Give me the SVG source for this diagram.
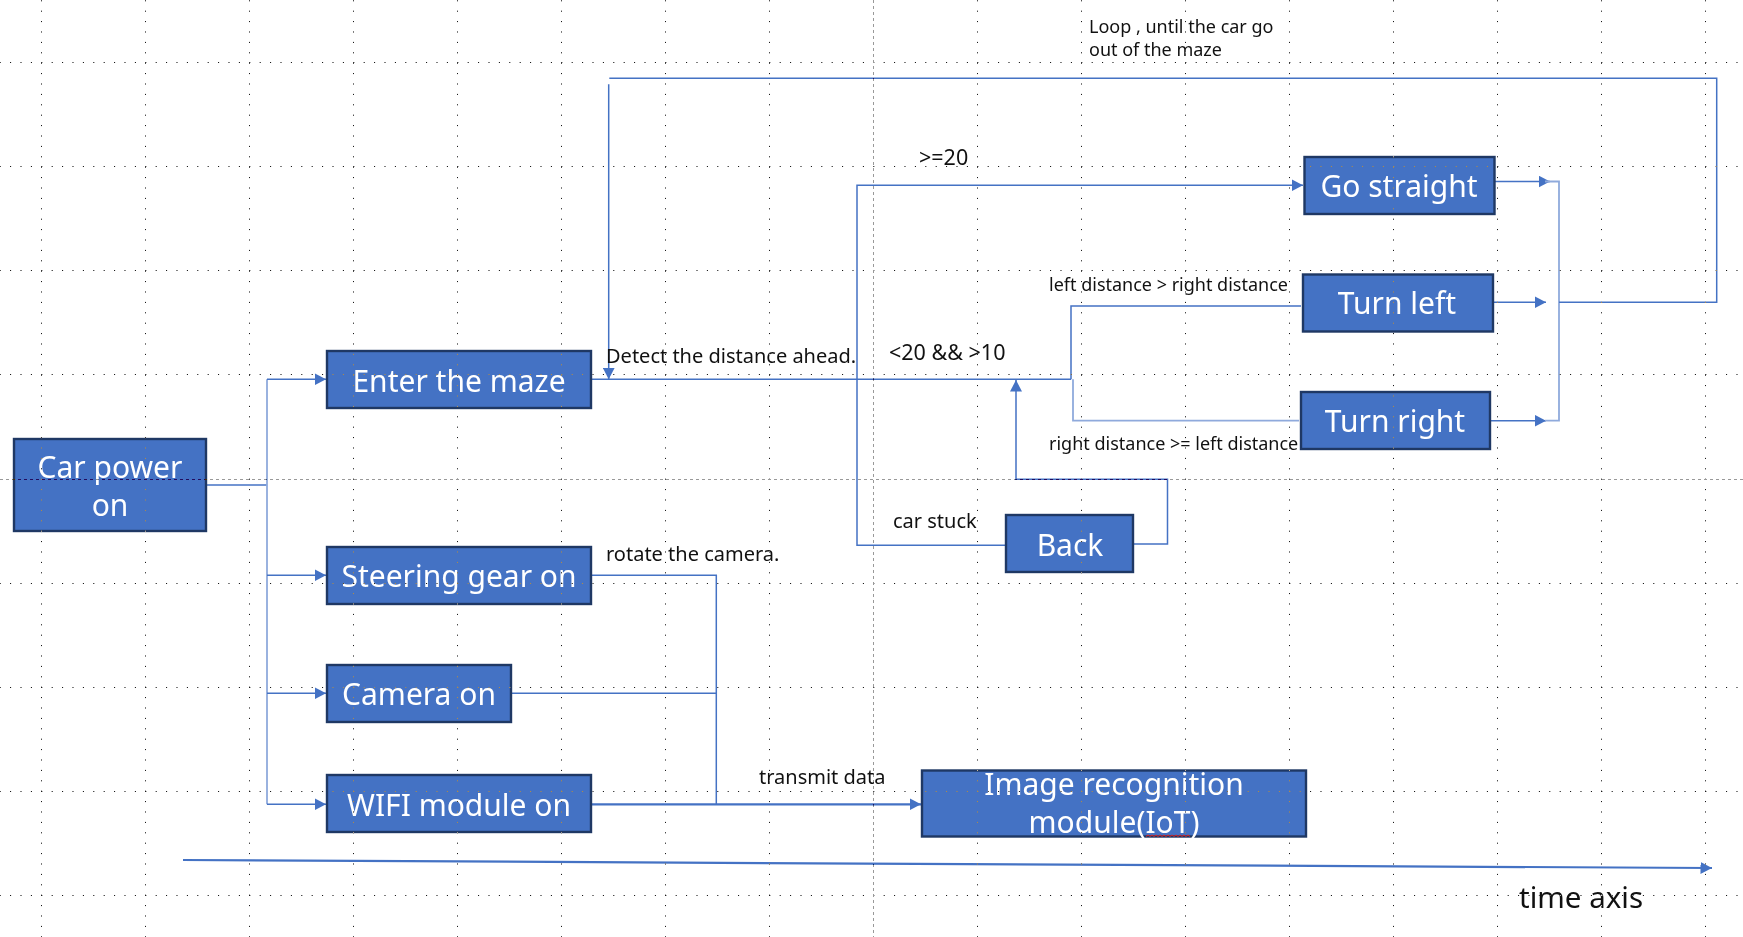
<svg xmlns="http://www.w3.org/2000/svg" width="1743" height="937" viewBox="0 0 1743 937">
<style>
.box{fill:#4472c4;stroke:#1f3864;stroke-width:2.4}
.bt{font-family:"Noto Sans","Open Sans","Liberation Sans",sans-serif;font-size:30px;fill:#ffffff;text-anchor:middle}
.lb{font-family:"Noto Sans","Open Sans","Liberation Sans",sans-serif;font-size:20px;fill:#111111}
.sm{font-size:18px}
.md{font-size:21.5px}
.c{fill:none;stroke:#4472c4;stroke-width:1.5}
.cl{fill:none;stroke:#8faadc;stroke-width:1.8}
.thick{stroke-width:2.2}
.arr{marker-end:url(#ah)}
.grid{mix-blend-mode:difference}
.g{stroke:#ffffff;stroke-width:1;stroke-dasharray:1 9.4;fill:none}
.d{stroke:#666666;stroke-width:1;stroke-dasharray:3 3;fill:none}
</style>
<defs>
<marker id="ah" markerUnits="userSpaceOnUse" markerWidth="12" markerHeight="12" refX="11.5" refY="6" orient="auto"><path d="M0,0 L11.5,6 L0,12 z" fill="#4472c4"/></marker>
</defs>
<rect x="0" y="0" width="1743" height="937" fill="#ffffff"/>

<g id="connectors">
<path class="c" d="M207,485 H267"/>
<path class="cl" d="M267,379.3 V804.3"/>
<path class="c arr" d="M267,379.3 H326"/>
<path class="c arr" d="M267,575.3 H326"/>
<path class="c arr" d="M267,693.3 H326"/>
<path class="c arr" d="M267,804.3 H326"/>
<path class="c" d="M592,379.3 H1071"/>
<path class="c arr" d="M1005,545.3 H857 V185.3 H1303"/>
<path class="c" d="M1301,306 H1071 V379.3"/>
<path class="cl" d="M1299,420.7 H1073 V379.3"/>
<path class="c arr" d="M1134,544 H1167.5 V479.3 H1016 V380"/>
<path class="c arr" d="M1495,181.5 H1550"/>
<path class="c arr" d="M1493,302.3 H1546"/>
<path class="c arr" d="M1491,420.7 H1546"/>
<path class="cl" d="M1545,181.5 H1559 V420.7 H1545"/>
<path class="c" d="M1559,302.3 H1716.7 V78.3 H609.3"/>
<path class="c arr" d="M608.7,84.3 V379.3"/>
<path class="c" d="M592,575.3 H716.3 V805"/>
<path class="c" d="M511.6,693.3 H716.3"/>
<path class="c thick arr" d="M592,804.3 H921"/>
<path class="c thick arr" d="M183,860 L1712,868"/>
</g>

<g id="car-power-on">
<rect class="box" x="14" y="439" width="192" height="92"/>
<text class="bt"><tspan x="110" y="478">Car power</tspan><tspan x="110" y="516">on</tspan></text>
</g>
<g id="enter-the-maze">
<rect class="box" x="327" y="351" width="264" height="57"/>
<text class="bt" x="459" y="392">Enter the maze</text>
</g>
<g id="steering-gear-on">
<rect class="box" x="327" y="547" width="264" height="57"/>
<text class="bt" x="459" y="587">Steering gear on</text>
</g>
<g id="camera-on">
<rect class="box" x="327" y="665" width="184" height="57"/>
<text class="bt" x="419" y="705">Camera on</text>
</g>
<g id="wifi-module-on">
<rect class="box" x="327" y="775" width="264" height="57"/>
<text class="bt" x="459" y="816">WIFI module on</text>
</g>
<g id="go-straight">
<rect class="box" x="1304.5" y="157" width="190" height="57"/>
<text class="bt" x="1399" y="197">Go straight</text>
</g>
<g id="turn-left">
<rect class="box" x="1303" y="274.5" width="190" height="57"/>
<text class="bt" x="1397" y="314">Turn left</text>
</g>
<g id="turn-right">
<rect class="box" x="1301" y="392" width="189" height="57"/>
<text class="bt" x="1395" y="432">Turn right</text>
</g>
<g id="back">
<rect class="box" x="1006" y="515" width="127" height="57"/>
<text class="bt" x="1070" y="556">Back</text>
</g>
<g id="image-recognition">
<rect class="box" x="922" y="770.5" width="384" height="66"/>
<text class="bt"><tspan x="1114" y="795">Image recognition</tspan><tspan x="1114" y="833">module(IoT)</tspan></text>
<path d="M1146,836.5 l2,-1.5 l2,1.5 l2,-1.5 l2,1.5 l2,-1.5 l2,1.5 l2,-1.5 l2,1.5 l2,-1.5 l2,1.5 l2,-1.5 l2,1.5 l2,-1.5 l2,1.5 l2,-1.5 l2,1.5 l2,-1.5 l2,1.5 l2,-1.5 l2,1.5 l2,-1.5 l2,1.5" fill="none" stroke="#e02020" stroke-width="1"/>
</g>

<g id="labels">
<text class="lb sm" x="1089" y="33">Loop , until the car go</text>
<text class="lb sm" x="1089" y="56">out of the maze</text>
<text class="lb md" x="919" y="165">&gt;=20</text>
<text class="lb sm" x="1049" y="291">left distance &gt; right distance</text>
<text class="lb" x="606" y="363">Detect the distance ahead.</text>
<text class="lb md" x="889" y="360">&lt;20 &amp;&amp; &gt;10</text>
<text class="lb sm" x="1049" y="450">right distance &gt;= left distance</text>
<text class="lb" x="893" y="528">car stuck</text>
<text class="lb" x="606" y="561">rotate the camera.</text>
<text class="lb" x="759" y="784">transmit data</text>
<text class="lb" x="1519" y="908" style="font-size:29.5px">time axis</text>
</g>

<g class="grid">
<path class="g" d="M-0.3,62.5 H1743 M-0.3,166.5 H1743 M-0.3,270.5 H1743 M-0.3,374.5 H1743 M-0.3,583.5 H1743 M-0.3,687.5 H1743 M-0.3,791.5 H1743 M-0.3,895.5 H1743"/>
<path class="g" d="M41.5,0.3 V937 M145.5,0.3 V937 M249.5,0.3 V937 M353.5,0.3 V937 M457.5,0.3 V937 M561.5,0.3 V937 M665.5,0.3 V937 M769.5,0.3 V937 M977.5,0.3 V937 M1081.5,0.3 V937 M1185.5,0.3 V937 M1289.5,0.3 V937 M1393.5,0.3 V937 M1497.5,0.3 V937 M1601.5,0.3 V937 M1705.5,0.3 V937"/>
<path class="d" d="M0,479.5 H1743 M873.5,0 V937"/>
</g>
</svg>
